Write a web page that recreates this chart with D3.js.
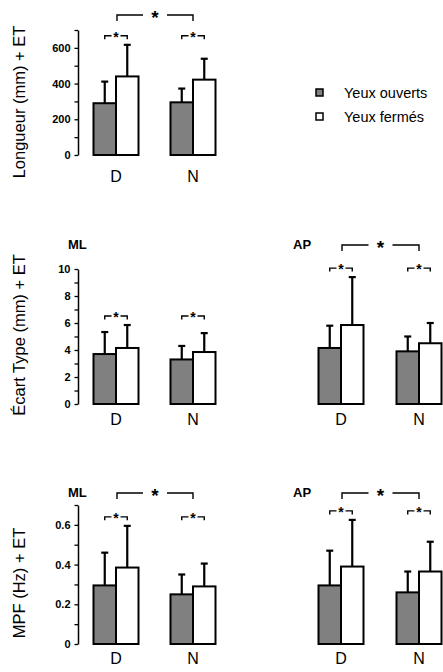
<!DOCTYPE html>
<html>
<head>
<meta charset="utf-8">
<script src="https://cdn.jsdelivr.net/npm/d3@7"></script>
<style>
  body { margin: 0; background: #fff; }
  svg { display: block; font-family: "Liberation Sans", Arial, sans-serif; }
</style>
</head>
<body>
<div id="chart"></div>
<script>
const width = 443;
const height = 672;

// data
const groups = ['D', 'N'];
const series = ['Yeux ouverts', 'Yeux fermés'];
const colors = ['#808080', '#ffffff'];

// means [open, closed] per group, and SD (ET)
const longueurMean = [[290, 440], [295, 422]];
const longueurSD = [[121, 177], [77, 117]];
const ecartMLMean = [[3.7, 4.15], [3.3, 3.85]];
const ecartMLSD = [[1.63, 1.7], [1.0, 1.4]];
const ecartAPMean = [[4.15, 5.85], [3.9, 4.5]];
const ecartAPSD = [[1.65, 3.55], [1.1, 1.5]];
const mpfMLMean = [[0.295, 0.385], [0.25, 0.29]];
const mpfMLSD = [[0.165, 0.21], [0.1, 0.115]];
const mpfAPMean = [[0.295, 0.39], [0.26, 0.365]];
const mpfAPSD = [[0.175, 0.235], [0.105, 0.15]];

const longueurTicks = [0, 200, 400, 600];
const ecartTicks = [0, 2, 4, 6, 8, 10];
const mpfTicks = [0, 0.2, 0.4, 0.6];

const yTitles = ['Longueur (mm) + ET', 'Écart Type (mm) + ET', 'MPF (Hz) + ET'];

// layout per row
const rows = [
  { domain: [0, 700], minor: 100, range: [155, 30], ticks: longueurTicks, title: yTitles[0], titleY: 102, labelY: 182, bigY: 15 },
  { domain: [0, 10], minor: 1, range: [404, 269], ticks: ecartTicks, title: yTitles[1], titleY: 335, labelY: 425, bigY: 245 },
  { domain: [0, 0.7], minor: 0.1, range: [644, 505], ticks: mpfTicks, title: yTitles[2], titleY: 583, labelY: 664, bigY: 493 },
];
rows.forEach((r) => (r.y = d3.scaleLinear().domain(r.domain).range(r.range)));

const xLeft = d3.scalePoint().domain(groups).range([116, 193]);
const xRight = d3.scalePoint().domain(groups).range([341, 419]);
const inner = d3.scaleBand().domain(series).range([-22.5, 22.5]);

const panels = [
  { row: 0, x: xLeft, mean: longueurMean, sd: longueurSD, axis: true, big: true },
  { row: 1, x: xLeft, mean: ecartMLMean, sd: ecartMLSD, axis: true, big: false, label: 'ML' },
  { row: 1, x: xRight, mean: ecartAPMean, sd: ecartAPSD, axis: false, big: true, label: 'AP' },
  { row: 2, x: xLeft, mean: mpfMLMean, sd: mpfMLSD, axis: true, big: true, label: 'ML' },
  { row: 2, x: xRight, mean: mpfAPMean, sd: mpfAPSD, axis: false, big: true, label: 'AP' },
];

const svg = d3
  .select('#chart')
  .append('svg')
  .attr('width', width)
  .attr('height', height);

function star(g, x, y, size) {
  g.append('text')
    .attr('x', x)
    .attr('y', y + size * 0.57 - 2)
    .attr('text-anchor', 'middle')
    .attr('font-weight', 'bold')
    .attr('font-size', size)
    .text('*');
}

function bracket(g, x1, x2, y, drop, gap, size) {
  const mid = (x1 + x2) / 2;
  const p = d3.path();
  p.moveTo(x1, y + drop);
  p.lineTo(x1, y);
  p.lineTo(mid - gap, y);
  p.moveTo(mid + gap, y);
  p.lineTo(x2, y);
  p.lineTo(x2, y + drop);
  g.append('path')
    .attr('d', p.toString())
    .attr('fill', 'none')
    .attr('stroke', '#000')
    .attr('stroke-width', 1.4);
  star(g, mid, y, size);
}

function drawPanel(cfg) {
  const r = rows[cfg.row];
  const y = r.y;
  const x = cfg.x;
  const g = svg.append('g');

  if (cfg.axis) {
    const tickVals = d3.range(r.domain[0], r.domain[1] + r.minor / 2, r.minor);
    const isMajor = (v) => r.ticks.some((t) => Math.abs(t - v) < 1e-9);
    const axis = d3
      .axisLeft(y)
      .tickValues(tickVals)
      .tickSize(3.5)
      .tickSizeOuter(0)
      .tickPadding(4)
      .tickFormat((v) => (isMajor(v) ? d3.format('~g')(+v.toFixed(2)) : ''));
    const ag = g.append('g').attr('transform', 'translate(78,0)').call(axis);
    ag.select('.domain').attr('stroke-width', 1.5);
    ag.selectAll('.tick line').attr('stroke-width', 1.3);
    ag.selectAll('.tick text')
      .attr('font-size', 11)
      .attr('font-weight', 'bold')
      .attr('font-family', '"Liberation Sans", Arial, sans-serif')
      .attr('fill', '#000');

    g.append('text')
      .attr('transform', `translate(25,${r.titleY}) rotate(-90)`)
      .attr('text-anchor', 'middle')
      .attr('font-size', 16.5)
      .text(r.title);
  }

  const cells = [];
  groups.forEach((grp, gi) =>
    series.forEach((s, si) =>
      cells.push({ grp, s, si, mean: cfg.mean[gi][si], sd: cfg.sd[gi][si] })
    )
  );

  const bx = (d) => x(d.grp) + inner(d.s);
  const cx = (d) => bx(d) + inner.bandwidth() / 2;

  // error bars behind the bars
  g.selectAll('line.err')
    .data(cells)
    .join('line')
    .attr('class', 'err')
    .attr('x1', cx)
    .attr('x2', cx)
    .attr('y1', (d) => y(d.mean))
    .attr('y2', (d) => y(d.mean + d.sd))
    .attr('stroke', '#000')
    .attr('stroke-width', 2.2);
  g.selectAll('line.cap')
    .data(cells)
    .join('line')
    .attr('class', 'cap')
    .attr('x1', (d) => cx(d) - 3.5)
    .attr('x2', (d) => cx(d) + 3.5)
    .attr('y1', (d) => y(d.mean + d.sd))
    .attr('y2', (d) => y(d.mean + d.sd))
    .attr('stroke', '#000')
    .attr('stroke-width', 2.2);

  g.selectAll('rect.bar')
    .data(cells)
    .join('rect')
    .attr('class', 'bar')
    .attr('x', bx)
    .attr('y', (d) => y(d.mean))
    .attr('width', inner.bandwidth())
    .attr('height', (d) => y(0) - y(d.mean))
    .attr('fill', (d) => colors[d.si])
    .attr('stroke', '#000')
    .attr('stroke-width', 2);

  // group labels
  g.selectAll('text.grp')
    .data(groups)
    .join('text')
    .attr('class', 'grp')
    .attr('x', (d) => x(d))
    .attr('y', r.labelY)
    .attr('text-anchor', 'middle')
    .attr('font-size', 16)
    .text((d) => d);

  // small brackets
  const topErr = d3.max(cells, (d) => d.mean + d.sd);
  const smallY = y(topErr) - 9;
  groups.forEach((grp) => {
    const x1 = x(grp) + inner(series[0]) + inner.bandwidth() / 2;
    const x2 = x(grp) + inner(series[1]) + inner.bandwidth() / 2;
    bracket(g, x1, x2, smallY, 3.5, 4.5, 14);
  });

  if (cfg.big) {
    bracket(g, x(groups[0]) + 1, x(groups[1]), r.bigY, 6, 12, 19);
  }

  if (cfg.label) {
    g.append('text')
      .attr('x', x(groups[0]) - 48)
      .attr('y', r.bigY + 4)
      .attr('font-size', 13)
      .attr('font-weight', 'bold')
      .text(cfg.label);
  }
}

panels.forEach(drawPanel);

// legend
const legend = svg
  .append('g')
  .selectAll('g')
  .data(series)
  .join('g')
  .attr('transform', (d, i) => `translate(316,${89 + i * 24})`);
legend
  .append('rect')
  .attr('width', 7)
  .attr('height', 7)
  .attr('fill', (d, i) => colors[i])
  .attr('stroke', '#000')
  .attr('stroke-width', 1.5);
legend
  .append('text')
  .attr('x', 28)
  .attr('y', 9)
  .attr('font-size', 14.5)
  .text((d) => d);
</script>
</body>
</html>
